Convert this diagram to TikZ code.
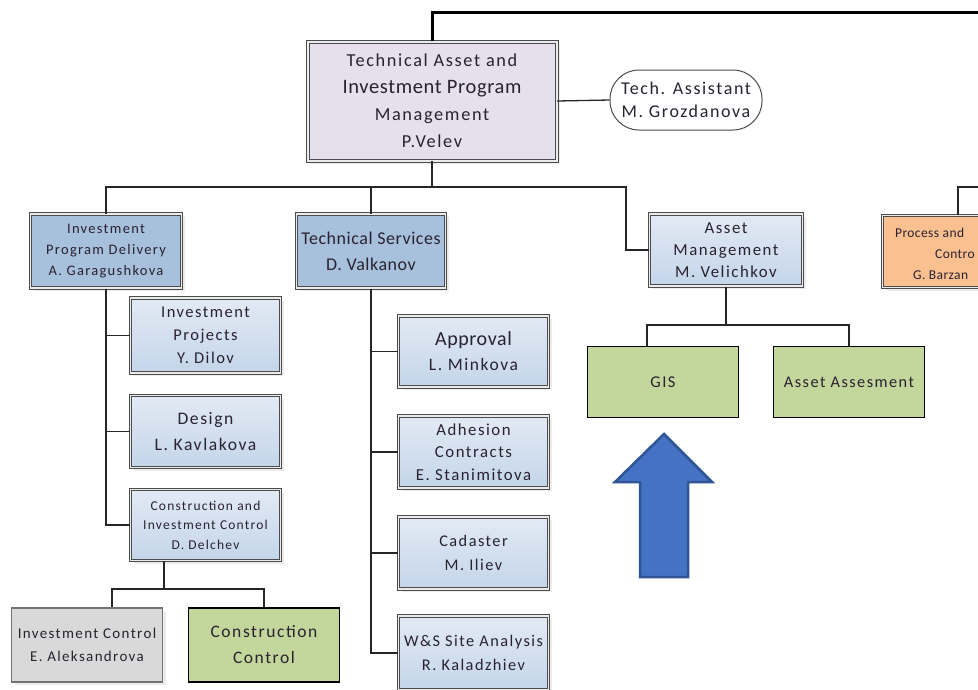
\documentclass[tikz,border=0pt]{standalone}
\usepackage{fontspec}
\setmainfont{Carlito}[LetterSpace=9]
\newfontfamily\bigfont{Carlito}[LetterSpace=3]
\usetikzlibrary{shapes,arrows,shadows,positioning,calc}

\definecolor{Lavender}{HTML}{E5E0EC}
\definecolor{MidBlue}{HTML}{A7C0DC}
\definecolor{LightTop}{HTML}{E2EAF4}
\definecolor{LightBot}{HTML}{C4D5EA}
\definecolor{OrangeBox}{HTML}{FAC090}
\definecolor{GreenBox}{HTML}{C3D69B}
\definecolor{GrayBox}{HTML}{D9D9D9}
\definecolor{ArrowFill}{HTML}{4472C4}
\definecolor{ArrowEdge}{HTML}{2F5597}
\definecolor{TextDark}{HTML}{2A2230}

\begin{document}
\begin{tikzpicture}[x=1pt,y=-1pt]
			\tikzstyle{Unit}	= [rectangle, draw=black!70, double=black!8, double distance=1.4pt, line width=1pt, drop shadow={shadow xshift=3pt, shadow yshift=-3pt, fill=black!15}, align=center, inner sep=0pt, text=TextDark, minimum width=150pt, minimum height=72pt]
			\tikzstyle{Light}	= [top color=LightTop, bottom color=LightBot]
			\tikzstyle{Mid}		= [fill=MidBlue]
			\tikzstyle{Plain}	= [rectangle, draw=black, line width=1.8pt, fill=GreenBox, align=center, inner sep=0pt, text=TextDark, minimum width=151pt, minimum height=71pt]
			\tikzstyle{Link}	= [draw=black!85, line width=1.3pt]
			\tikzstyle{Thick}	= [draw=black, line width=3pt]
			\tikzstyle{BigArrow}	= [fill=ArrowFill, draw=ArrowEdge, line width=2.5pt]

			\useasboundingbox (0,0) rectangle (978,689);

			\node (top) at (432,101) [Unit, fill=Lavender, double distance=2pt, minimum width=249pt, minimum height=119pt, font=\fontsize{18.3}{27}\selectfont] {Technical Asset and\\{\bigfont\fontsize{20.5}{27}\selectfont Investment Program}\\Management\\P.Velev};
			\node (assist) at (686,100) [rectangle, rounded corners=29pt, draw=black!70, line width=1pt, fill=white, align=center, inner sep=0pt, text=TextDark, minimum width=152pt, minimum height=60pt, font=\fontsize{18}{23}\selectfont] {Tech. Assistant\\M. Grozdanova};

			\node (ipd) at (106,251) [Unit, Mid, minimum width=151pt, minimum height=74pt, font=\fontsize{14.5}{21}\selectfont] {Investment\\Program Delivery\\A. Garagushkova};
			\node (ts) at (371,251) [Unit, Mid, minimum width=149pt, minimum height=74pt, font=\bigfont\fontsize{18}{26}\selectfont] {Technical Services\\D. Valkanov};
			\node (am) at (726,250) [Unit, Light, minimum width=153pt, font=\fontsize{16.8}{22}\selectfont] {Asset\\Management\\M. Velichkov};
			\node (proc) at (958,251.5) [Unit, fill=OrangeBox, minimum width=151pt] {};
			\node (procA) at (895,233) [anchor=west, inner sep=0pt, text=TextDark, font=\bigfont\fontsize{13.5}{18}\selectfont] {Process and};
			\node (procB) at (935,254) [anchor=west, inner sep=0pt, text=TextDark, font=\bigfont\fontsize{13.5}{18}\selectfont] {Contro};
			\node (procC) at (913,275) [anchor=west, inner sep=0pt, text=TextDark, font=\bigfont\fontsize{13.5}{18}\selectfont] {G. Barzan};

			\node (ip) at (205.5,335.5) [Unit, Light, minimum height=75pt, font=\fontsize{16.5}{23}\selectfont] {Investment\\Projects\\Y. Dilov};
			\node (design) at (205.5,431.5) [Unit, Light, font=\fontsize{17.6}{26}\selectfont] {Design\\L. Kavlakova};
			\node (cic) at (205.5,525) [Unit, Light, minimum height=71pt, font=\fontsize{13.5}{19.5}\selectfont] {Construction and\\Investment Control\\D. Delchev};
			\node (ic) at (87,645) [rectangle, draw=black!55, line width=1.4pt, fill=GrayBox, drop shadow={shadow xshift=3pt, shadow yshift=-3pt, fill=black!15}, align=center, inner sep=0pt, text=TextDark, minimum width=151pt, minimum height=74pt, font=\fontsize{15}{23}\selectfont] {Investment Control\\E. Aleksandrova};
			\node (cc) at (264,645) [Plain, minimum height=74pt, font=\fontsize{17.5}{26}\selectfont] {Construction\\Control};

			\node (appr) at (473.5,351.5) [Unit, Light, minimum height=71pt, font=\fontsize{17.5}{25}\selectfont] {{\bigfont\fontsize{20}{25}\selectfont Approval}\\L. Minkova};
			\node (adh) at (473.5,452) [Unit, Light, font=\fontsize{16.8}{22.5}\selectfont] {Adhesion\\Contracts\\E. Stanimitova};
			\node (cad) at (473.5,553) [Unit, Light, font=\fontsize{16.3}{24}\selectfont] {Cadaster\\M. Iliev};
			\node (ws) at (473.5,653) [Unit, Light, minimum height=74pt, font=\fontsize{16.3}{24}\selectfont] {W\&S Site Analysis\\R. Kaladzhiev};

			\node (gis) at (663,382) [Plain, font=\fontsize{16.5}{20}\selectfont] {GIS};
			\node (aa) at (849,382) [Plain, font=\fontsize{16.3}{20}\selectfont] {Asset Assesment};

			\coordinate (topend) at (978,12);
			\coordinate (busmid) at (432,187);
			\coordinate (busright) at (978,187);
			\coordinate (amturn) at (626,250);
			\coordinate (cicjoin) at (164,589);
			\coordinate (amjoin) at (726,325);

			\draw [Thick] (top.north) |- (topend);
			\draw [Link] (top.east) -- (assist.west);
			\draw [Link] (top.south) -- (busmid);
			\draw [Link] (busmid) -| (ipd.north);
			\draw [Link] (busmid) -| (ts.north);
			\draw [Link] (busmid) -| (amturn) -- (am.west);
			\draw [Link] (proc.north) |- (busright);

			\draw [Link] (ipd.south) |- (ip.west);
			\draw [Link] (ipd.south) |- (design.west);
			\draw [Link] (ipd.south) |- (cic.west);
			\draw [Link] (cic.south -| cicjoin) -- (cicjoin);
			\draw [Link] (cicjoin) -| ($(ic.north)+(25,0)$);
			\draw [Link] (cicjoin) -| (cc.north);

			\draw [Link] (ts.south) |- (appr.west);
			\draw [Link] (ts.south) |- (adh.west);
			\draw [Link] (ts.south) |- (cad.west);
			\draw [Link] (ts.south) |- (ws.west);

			\draw [Link] (am.south) -- (amjoin);
			\draw [Link] (amjoin) -| ($(gis.north)+(-16,0)$);
			\draw [Link] (amjoin) -| (aa.north);

			\draw [BigArrow] (640,577) -- (640,482) -- (615,482) -- (664,434) -- (712,482) -- (688,482) -- (688,577) -- cycle;
		\end{tikzpicture}
\end{document}
